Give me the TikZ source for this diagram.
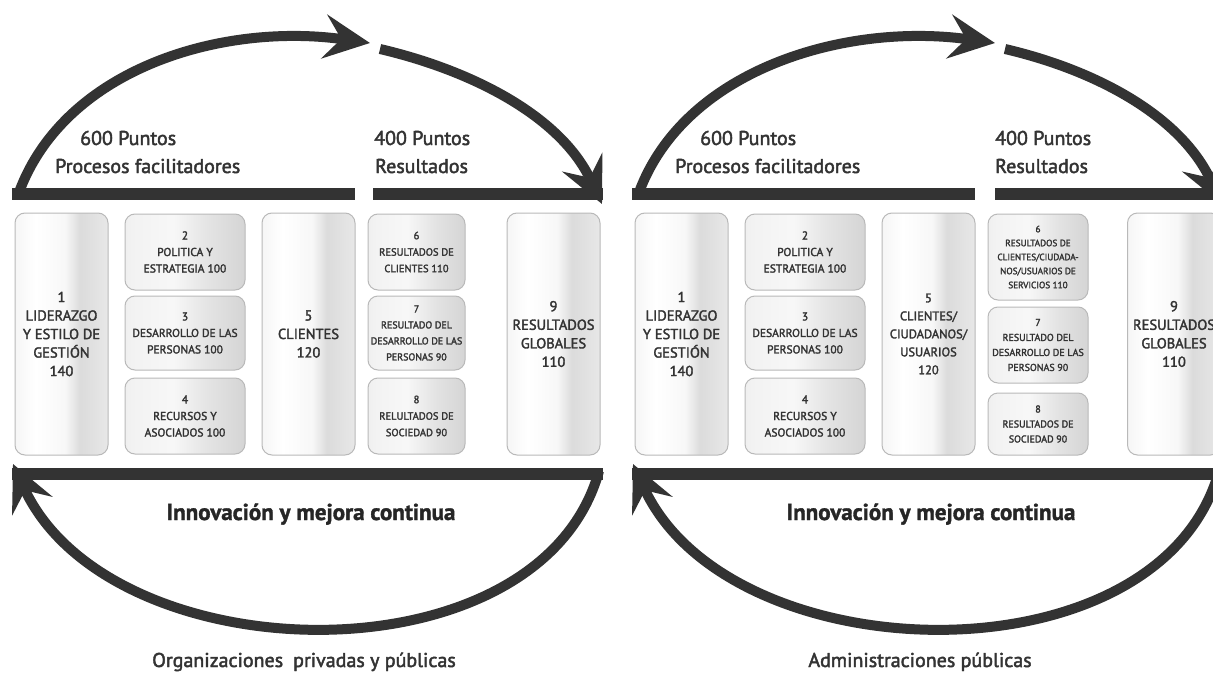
\documentclass[tikz,border=0pt]{standalone}
\usepackage{fontspec}
\setmainfont{PT Sans}
\newfontfamily\medfont{PT Sans}[FakeBold=2.2]
\newfontfamily\heavyfont{PT Sans Bold}[FakeBold=1.5]
\usetikzlibrary{arrows.meta,positioning}

\definecolor{ink}{HTML}{333333}
\pgfdeclarehorizontalshading{tallshade}{100bp}{color(0bp)=(gray!32); color(18bp)=(gray!12); color(36bp)=(white); color(52bp)=(gray!6); color(60bp)=(gray!28); color(82bp)=(gray!14); color(100bp)=(gray!38)}
\pgfdeclarehorizontalshading{smallshade}{100bp}{color(0bp)=(gray!30); color(28bp)=(gray!10); color(45bp)=(gray!6); color(60bp)=(gray!22); color(76bp)=(gray!34); color(100bp)=(gray!42)}

\begin{document}
\begin{tikzpicture}[x=1pt,y=-1pt,
    tallbox/.style={draw=gray!55, line width=1pt, rounded corners=10pt,
      shading=tallshade, minimum width=93pt, minimum height=242pt,
      align=center, inner sep=1pt, text=ink,
      font=\medfont\fontsize{14.5}{18.5}\selectfont},
    smallbox/.style={draw=gray!55, line width=1pt, rounded corners=10pt,
      shading=smallshade, minimum width=120pt, align=center, inner sep=1pt,
      text=ink, font=\medfont\fontsize{11.5}{16.5}\selectfont},
    bar/.style={draw=ink, line width=12pt},
    loop/.style={draw=ink, line width=10pt,
      -{Stealth[length=46pt,width=44pt,inset=17pt]}},
    head/.style={text=ink, font=\medfont\fontsize{20}{22}\selectfont, inner sep=0pt},
    foot/.style={text=ink, font=\medfont\fontsize{20}{22}\selectfont, inner sep=0pt},
    motto/.style={text=black!85, font=\heavyfont\fontsize{23}{26}\selectfont, inner sep=0pt}]

  \clip (0,0) rectangle (1213,677);
  \fill[white] (0,0) rectangle (1213,677);

  % organizaciones privadas y publicas
  \coordinate (lbl) at (12,194);
  \coordinate (lbm) at (355,194);
  \coordinate (lbr) at (373,194);
  \coordinate (lbe) at (603,194);
  \coordinate (llo) at (12,474);
  \coordinate (lhi) at (603,474);
  \coordinate (ltop) at (370,43);
  \coordinate (lmid) at (380,49);

  \draw[bar] (lbl) -- (lbm);
  \draw[bar] (lbr) -- (lbe);
  \draw[bar] (llo) -- (lhi);
  \draw[loop] ([xshift=5pt,yshift=-4pt]lbl) .. controls (60,70) and (220,22) .. (ltop);
  \draw[loop] (lmid) .. controls (470,70) and (560,115) .. ([xshift=-1pt,yshift=-10pt]lbe);
  \draw[loop] ([xshift=-4pt,yshift=3pt]lhi) .. controls (540,685) and (110,675) .. ([xshift=1pt,yshift=10pt]llo);

  \node[head, anchor=base west] (lpts) at (80,145) {600 Puntos};
  \node[head, anchor=base west] (lproc) at (55,173) {Procesos facilitadores};
  \node[head, anchor=base west] (rpts) at (374,145) {400 Puntos};
  \node[head, anchor=base west] (rres) at (375,173) {Resultados};

  \node[tallbox] (l1) at (61.5,334) {1\\LIDERAZGO\\Y ESTILO DE\\GESTIÓN\\140};
  \node[smallbox, minimum height=76pt] (l2) at (185,252) {2\\POLITICA Y\\ESTRATEGIA 100};
  \node[smallbox, minimum height=74pt] (l3) at (185,333) {3\\DESARROLLO DE LAS\\PERSONAS 100};
  \node[smallbox, minimum height=76pt] (l4) at (185,416) {4\\RECURSOS Y\\ASOCIADOS 100};
  \node[tallbox] (l5) at (308.5,334) {5\\CLIENTES\\120};
  \node[smallbox, minimum width=97pt, minimum height=76pt, font=\medfont\fontsize{10.5}{16.5}\selectfont] (l6) at (416.5,252) {6\\RESULTADOS DE\\CLIENTES 110};
  \node[smallbox, minimum width=97pt, minimum height=74pt, font=\medfont\fontsize{10}{16}\selectfont] (l7) at (416.5,333) {7\\RESULTADO DEL\\DESARROLLO DE LAS\\PERSONAS 90};
  \node[smallbox, minimum width=97pt, minimum height=76pt, font=\medfont\fontsize{10.5}{16.5}\selectfont] (l8) at (416.5,416) {8\\RELULTADOS DE\\SOCIEDAD 90};
  \node[tallbox] (l9) at (553.5,334) {9\\RESULTADOS\\GLOBALES\\110};

  \node[motto, anchor=base] (linn) at (311,520) {Innovación y mejora continua};
  \node[foot, anchor=base] (lorg) at (304,667) {Organizaciones\enspace privadas y públicas};

  % administraciones publicas
  \begin{scope}[xshift=620pt]
  \coordinate (rbl) at (12,194);
  \coordinate (rbm) at (355,194);
  \coordinate (rbr) at (375,194);
  \coordinate (rbe) at (603,194);
  \coordinate (rlo) at (12,474);
  \coordinate (rhi) at (603,474);
  \coordinate (rtop) at (375,43);
  \coordinate (rmid) at (385,49);

  \draw[bar] (rbl) -- (rbm);
  \draw[bar] (rbr) -- (rbe);
  \draw[bar] (rlo) -- (rhi);
  \draw[loop] ([xshift=5pt,yshift=-4pt]rbl) .. controls (60,70) and (225,22) .. (rtop);
  \draw[loop] (rmid) .. controls (475,70) and (560,115) .. ([xshift=-1pt,yshift=-10pt]rbe);
  \draw[loop] ([xshift=-4pt,yshift=3pt]rhi) .. controls (540,685) and (110,675) .. ([xshift=1pt,yshift=10pt]rlo);

  \node[head, anchor=base west] (rlpts) at (80,145) {600 Puntos};
  \node[head, anchor=base west] (rlproc) at (55,173) {Procesos facilitadores};
  \node[head, anchor=base west] (rrpts) at (375,145) {400 Puntos};
  \node[head, anchor=base west] (rrres) at (375,173) {Resultados};

  \node[tallbox] (r1) at (61.5,334) {1\\LIDERAZGO\\Y ESTILO DE\\GESTIÓN\\140};
  \node[smallbox, minimum height=76pt] (r2) at (185,252) {2\\POLITICA Y\\ESTRATEGIA 100};
  \node[smallbox, minimum height=74pt] (r3) at (185,333) {3\\DESARROLLO DE LAS\\PERSONAS 100};
  \node[smallbox, minimum height=76pt] (r4) at (185,416) {4\\RECURSOS Y\\ASOCIADOS 100};
  \node[tallbox, font=\medfont\fontsize{12.5}{18}\selectfont] (r5) at (308.5,334) {5\\CLIENTES/\\CIUDADANOS/\\USUARIOS\\120};
  \node[smallbox, minimum width=100pt, minimum height=86pt, font=\medfont\fontsize{9.2}{14}\selectfont] (r6) at (418,257) {6\\RESULTADOS DE\\CLIENTES/CIUDADA-\\NOS/USUARIOS DE\\SERVICIOS 110};
  \node[smallbox, minimum width=100pt, minimum height=76pt, font=\medfont\fontsize{10}{15}\selectfont] (r7) at (418,345) {7\\RESULTADO DEL\\DESARROLLO DE LAS\\PERSONAS 90};
  \node[smallbox, minimum width=100pt, minimum height=62pt, font=\medfont\fontsize{10}{15}\selectfont] (r8) at (418,424) {8\\RESULTADOS DE\\SOCIEDAD 90};
  \node[tallbox] (r9) at (554,334) {9\\RESULTADOS\\GLOBALES\\110};

  \node[motto, anchor=base] (rinn) at (311,520) {Innovación y mejora continua};
  \node[foot, anchor=base] (radm) at (300,667) {Administraciones públicas};
  \end{scope}
\end{tikzpicture}
\end{document}
